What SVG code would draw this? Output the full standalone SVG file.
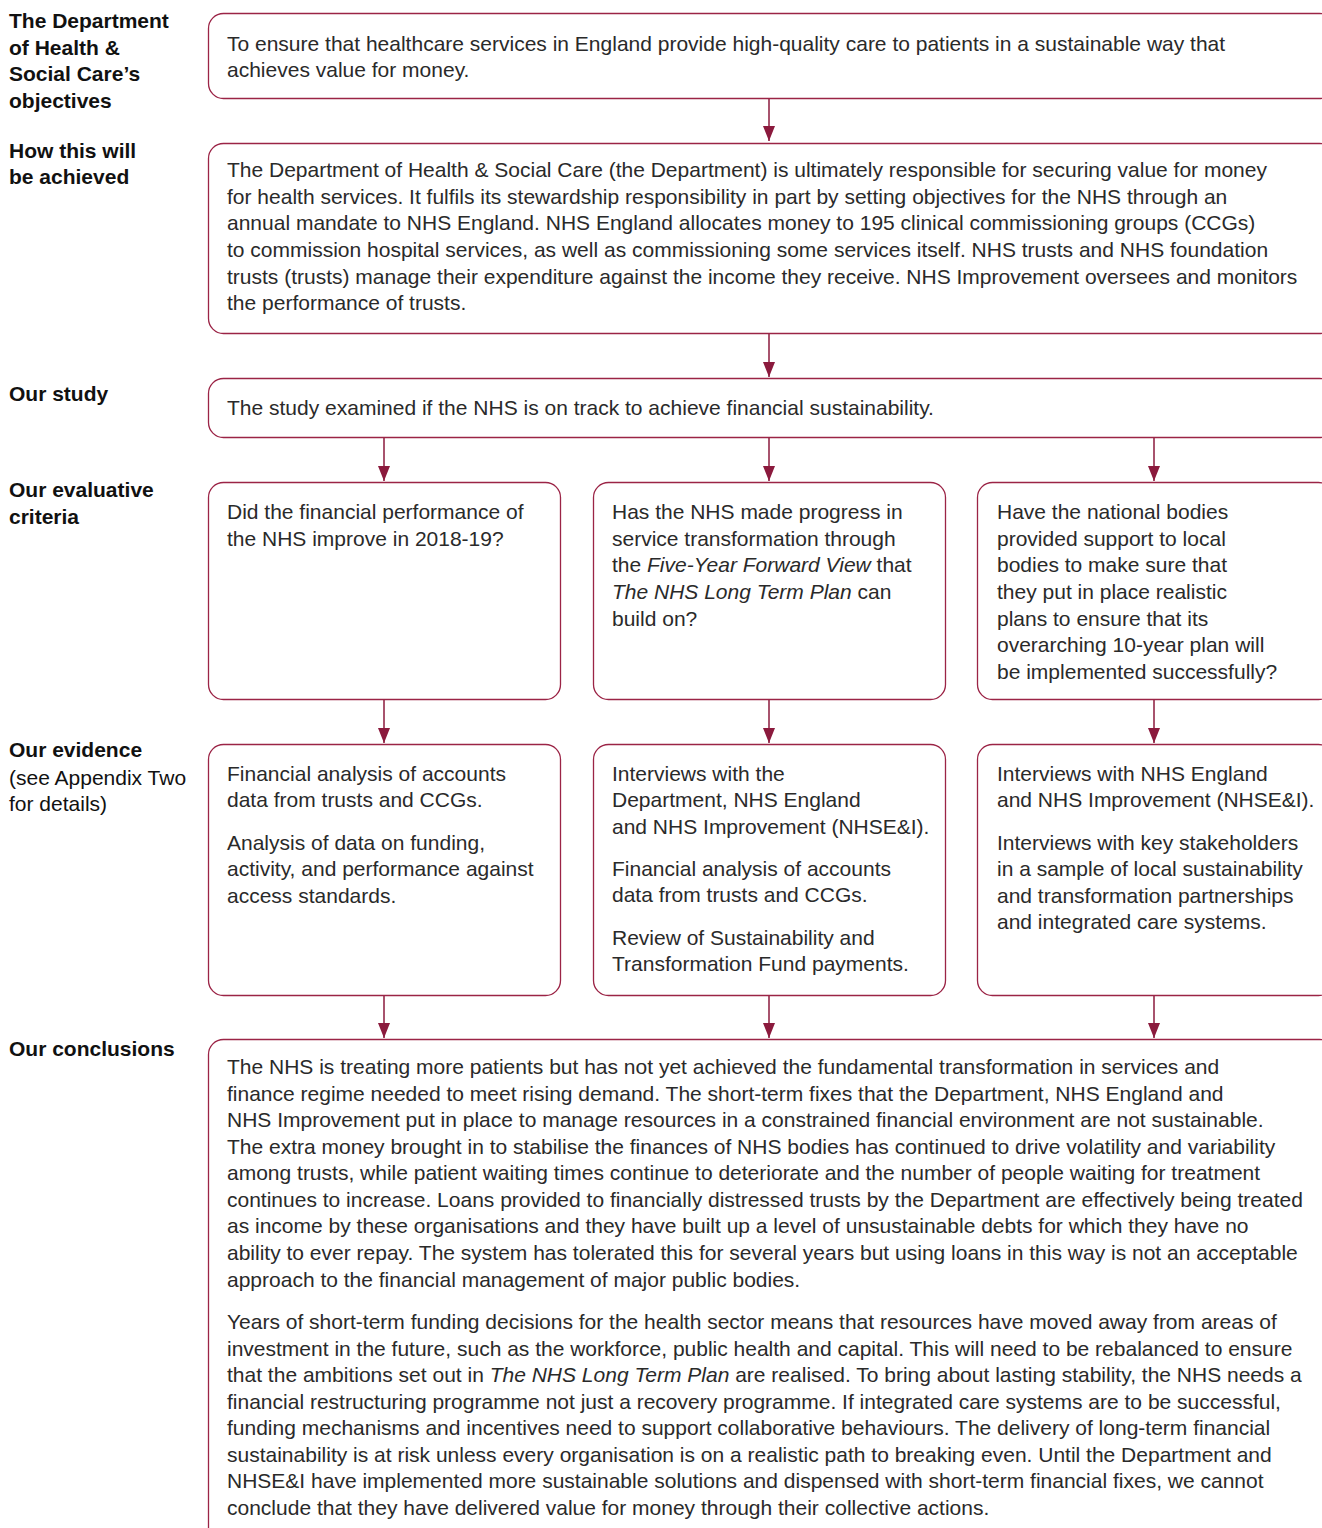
<svg xmlns="http://www.w3.org/2000/svg" width="1322" height="1528" viewBox="0 0 1322 1528">
<style>
.bx{fill:#fff;stroke:#9b2446;stroke-width:1.3}
.t{font-family:"Liberation Sans",Arial,sans-serif;font-size:21px;fill:#2a2a2a}
.lb{font-family:"Liberation Sans",Arial,sans-serif;font-size:21px;font-weight:bold;fill:#111}
.lr{font-family:"Liberation Sans",Arial,sans-serif;font-size:21px;fill:#111}
.i{font-style:italic}
.cn{stroke:#8b1a3d;stroke-width:1.5;fill:none}
</style>
<defs>
<marker id="ah" markerWidth="15" markerHeight="12" refX="15" refY="6" orient="auto" markerUnits="userSpaceOnUse" viewBox="0 0 15 12">
<path d="M0,0 L15,6 L0,12 Z" fill="#8b1a3d"/>
</marker>
</defs>
<rect width="1322" height="1528" fill="#fff"/>
<g id="labels">
<text class="lb" x="9" y="28">The Department</text>
<text class="lb" x="9" y="55">of Health &amp;</text>
<text class="lb" x="9" y="81">Social Care’s</text>
<text class="lb" x="9" y="108">objectives</text>
<text class="lb" x="9" y="158">How this will</text>
<text class="lb" x="9" y="184">be achieved</text>
<text class="lb" x="9" y="401">Our study</text>
<text class="lb" x="9" y="497">Our evaluative</text>
<text class="lb" x="9" y="524">criteria</text>
<text class="lb" x="9" y="757">Our evidence</text>
<text class="lr" x="9" y="785">(see Appendix Two</text>
<text class="lr" x="9" y="811">for details)</text>
<text class="lb" x="9" y="1056">Our conclusions</text>
</g>
<g id="connectors">
<line class="cn" x1="769" y1="99" x2="769" y2="141" marker-end="url(#ah)"/>
<line class="cn" x1="769" y1="334" x2="769" y2="377" marker-end="url(#ah)"/>
<line class="cn" x1="384" y1="438" x2="384" y2="481" marker-end="url(#ah)"/>
<line class="cn" x1="769" y1="438" x2="769" y2="481" marker-end="url(#ah)"/>
<line class="cn" x1="1154" y1="438" x2="1154" y2="481" marker-end="url(#ah)"/>
<line class="cn" x1="384" y1="700" x2="384" y2="743" marker-end="url(#ah)"/>
<line class="cn" x1="769" y1="700" x2="769" y2="743" marker-end="url(#ah)"/>
<line class="cn" x1="1154" y1="700" x2="1154" y2="743" marker-end="url(#ah)"/>
<line class="cn" x1="384" y1="996" x2="384" y2="1038" marker-end="url(#ah)"/>
<line class="cn" x1="769" y1="996" x2="769" y2="1038" marker-end="url(#ah)"/>
<line class="cn" x1="1154" y1="996" x2="1154" y2="1038" marker-end="url(#ah)"/>
</g>
<g id="objectives">
<rect class="bx" x="208.5" y="13.5" width="1126" height="85" rx="15"/>
<text class="t" x="227" y="51">To ensure that healthcare services in England provide high-quality care to patients in a sustainable way that</text>
<text class="t" x="227" y="77">achieves value for money.</text>
</g>
<g id="how">
<rect class="bx" x="208.5" y="143.5" width="1126" height="190" rx="15"/>
<text class="t" x="227" y="177">The Department of Health &amp; Social Care (the Department) is ultimately responsible for securing value for money</text>
<text class="t" x="227" y="204">for health services. It fulfils its stewardship responsibility in part by setting objectives for the NHS through an</text>
<text class="t" x="227" y="230">annual mandate to NHS England. NHS England allocates money to 195 clinical commissioning groups (CCGs)</text>
<text class="t" x="227" y="257">to commission hospital services, as well as commissioning some services itself. NHS trusts and NHS foundation</text>
<text class="t" x="227" y="284">trusts (trusts) manage their expenditure against the income they receive. NHS Improvement oversees and monitors</text>
<text class="t" x="227" y="310">the performance of trusts.</text>
</g>
<g id="study">
<rect class="bx" x="208.5" y="378.5" width="1126" height="59" rx="15"/>
<text class="t" x="227" y="415">The study examined if the NHS is on track to achieve financial sustainability.</text>
</g>
<g id="criteria1">
<rect class="bx" x="208.5" y="482.5" width="352" height="217" rx="15"/>
<text class="t" x="227" y="519">Did the financial performance of</text>
<text class="t" x="227" y="546">the NHS improve in 2018-19?</text>
</g>
<g id="criteria2">
<rect class="bx" x="593.5" y="482.5" width="352" height="217" rx="15"/>
<text class="t" x="612" y="519">Has the NHS made progress in</text>
<text class="t" x="612" y="546">service transformation through</text>
<text class="t" x="612" y="572">the <tspan class="i">Five-Year Forward View</tspan> that</text>
<text class="t" x="612" y="599"><tspan class="i">The NHS Long Term Plan</tspan> can</text>
<text class="t" x="612" y="626">build on?</text>
</g>
<g id="criteria3">
<rect class="bx" x="977.5" y="482.5" width="356" height="217" rx="15"/>
<text class="t" x="997" y="519">Have the national bodies</text>
<text class="t" x="997" y="546">provided support to local</text>
<text class="t" x="997" y="572">bodies to make sure that</text>
<text class="t" x="997" y="599">they put in place realistic</text>
<text class="t" x="997" y="626">plans to ensure that its</text>
<text class="t" x="997" y="652">overarching 10-year plan will</text>
<text class="t" x="997" y="679">be implemented successfully?</text>
</g>
<g id="evidence1">
<rect class="bx" x="208.5" y="744.5" width="352" height="251" rx="15"/>
<text class="t" x="227" y="781">Financial analysis of accounts</text>
<text class="t" x="227" y="807">data from trusts and CCGs.</text>
<text class="t" x="227" y="850">Analysis of data on funding,</text>
<text class="t" x="227" y="876">activity, and performance against</text>
<text class="t" x="227" y="903">access standards.</text>
</g>
<g id="evidence2">
<rect class="bx" x="593.5" y="744.5" width="352" height="251" rx="15"/>
<text class="t" x="612" y="781">Interviews with the</text>
<text class="t" x="612" y="807">Department, NHS England</text>
<text class="t" x="612" y="834">and NHS Improvement (NHSE&amp;I).</text>
<text class="t" x="612" y="876">Financial analysis of accounts</text>
<text class="t" x="612" y="902">data from trusts and CCGs.</text>
<text class="t" x="612" y="945">Review of Sustainability and</text>
<text class="t" x="612" y="971">Transformation Fund payments.</text>
</g>
<g id="evidence3">
<rect class="bx" x="977.5" y="744.5" width="356" height="251" rx="15"/>
<text class="t" x="997" y="781">Interviews with NHS England</text>
<text class="t" x="997" y="807">and NHS Improvement (NHSE&amp;I).</text>
<text class="t" x="997" y="850">Interviews with key stakeholders</text>
<text class="t" x="997" y="876">in a sample of local sustainability</text>
<text class="t" x="997" y="903">and transformation partnerships</text>
<text class="t" x="997" y="929">and integrated care systems.</text>
</g>
<g id="conclusions">
<rect class="bx" x="208.5" y="1039.5" width="1126" height="520" rx="15"/>
<text class="t" x="227" y="1074">The NHS is treating more patients but has not yet achieved the fundamental transformation in services and</text>
<text class="t" x="227" y="1101">finance regime needed to meet rising demand. The short-term fixes that the Department, NHS England and</text>
<text class="t" x="227" y="1127">NHS Improvement put in place to manage resources in a constrained financial environment are not sustainable.</text>
<text class="t" x="227" y="1154">The extra money brought in to stabilise the finances of NHS bodies has continued to drive volatility and variability</text>
<text class="t" x="227" y="1180">among trusts, while patient waiting times continue to deteriorate and the number of people waiting for treatment</text>
<text class="t" x="227" y="1207">continues to increase. Loans provided to financially distressed trusts by the Department are effectively being treated</text>
<text class="t" x="227" y="1233">as income by these organisations and they have built up a level of unsustainable debts for which they have no</text>
<text class="t" x="227" y="1260">ability to ever repay. The system has tolerated this for several years but using loans in this way is not an acceptable</text>
<text class="t" x="227" y="1287">approach to the financial management of major public bodies.</text>
<text class="t" x="227" y="1329">Years of short-term funding decisions for the health sector means that resources have moved away from areas of</text>
<text class="t" x="227" y="1356">investment in the future, such as the workforce, public health and capital. This will need to be rebalanced to ensure</text>
<text class="t" x="227" y="1382">that the ambitions set out in <tspan class="i">The NHS Long Term Plan</tspan> are realised. To bring about lasting stability, the NHS needs a</text>
<text class="t" x="227" y="1409">financial restructuring programme not just a recovery programme. If integrated care systems are to be successful,</text>
<text class="t" x="227" y="1435">funding mechanisms and incentives need to support collaborative behaviours. The delivery of long-term financial</text>
<text class="t" x="227" y="1462">sustainability is at risk unless every organisation is on a realistic path to breaking even. Until the Department and</text>
<text class="t" x="227" y="1488">NHSE&amp;I have implemented more sustainable solutions and dispensed with short-term financial fixes, we cannot</text>
<text class="t" x="227" y="1515">conclude that they have delivered value for money through their collective actions.</text>
</g>
</svg>
